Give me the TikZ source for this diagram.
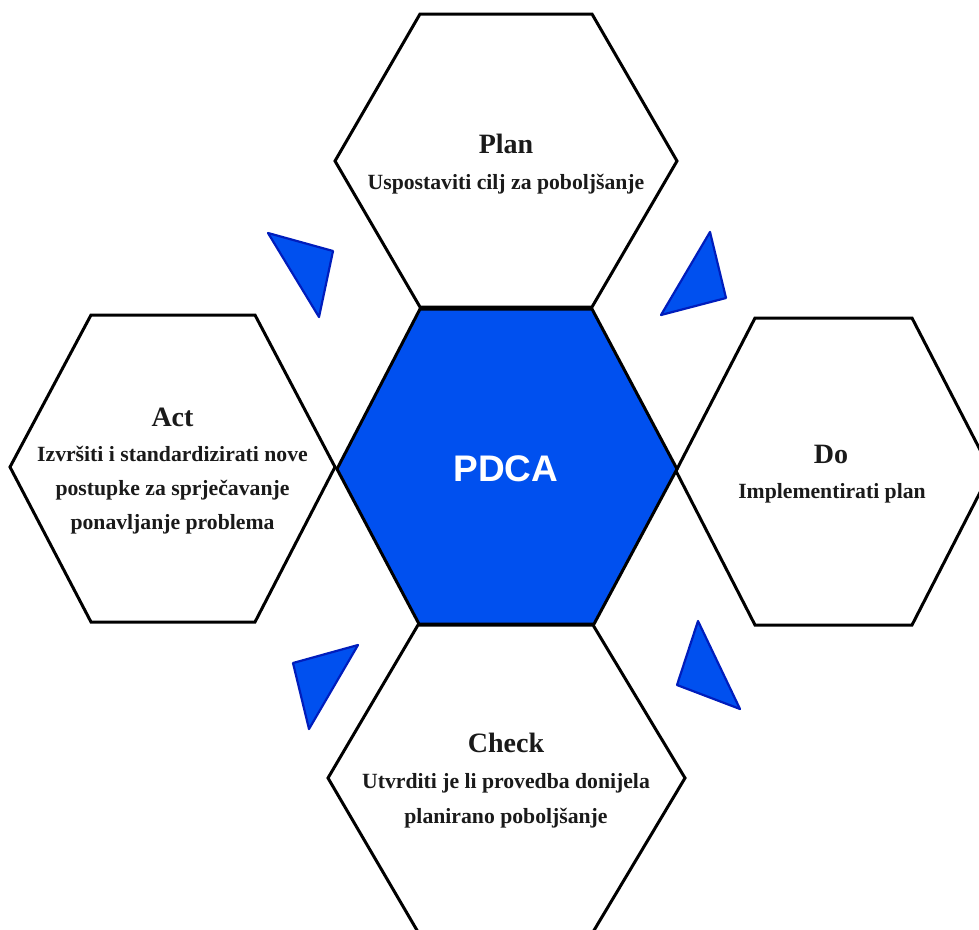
\documentclass[tikz,border=0pt]{standalone}
\usepackage{fontspec}
\setmainfont{Liberation Serif}
\newfontfamily\pdcafont{Liberation Sans}
\definecolor{hexblue}{HTML}{0050EF}
\definecolor{triedge}{HTML}{001DBC}
\definecolor{txtgray}{HTML}{1A1A1A}
\begin{document}
\begin{tikzpicture}[x=1pt,y=-1pt,
  hexa/.style={draw=black,line width=3pt,line join=miter,fill=white},
  core/.style={hexa,fill=hexblue},
  tri/.style={fill=hexblue,draw=triedge,line width=2.2pt,line join=round},
  ttl/.style={font=\fontsize{28}{34}\selectfont\bfseries,anchor=base,inner sep=0pt,text=txtgray},
  txt/.style={font=\fontsize{21.7}{26}\selectfont\bfseries,anchor=base,inner sep=0pt,text=txtgray},
  big/.style={font=\pdcafont\fontsize{37}{40}\selectfont\bfseries,inner sep=0pt,text=white}
]
\useasboundingbox (0,0) rectangle (979,929);

% outer hexagons
\draw[hexa] (420,14) -- (592,14) -- (677,161) -- (592,307) -- (420,307) -- (335,161) -- cycle; % Plan
\draw[hexa] (91,315) -- (255,315) -- (335,467) -- (255,622) -- (91,622) -- (10,467) -- cycle;   % Act
\draw[hexa] (755,318) -- (912,318) -- (991,471) -- (912,625) -- (755,625) -- (676,471) -- cycle; % Do
\draw[hexa] (418,625) -- (593,625) -- (685,778) -- (593,932) -- (418,932) -- (328,778) -- cycle; % Check

% central hexagon
\draw[core] (420,309) -- (592,309) -- (677,469) -- (594,624) -- (419,624) -- (337,469) -- cycle;
\node[big] (pdca) at (506,469) {PDCA};

% triangles
\draw[tri] (268,233) -- (333,251) -- (319,317) -- cycle;
\draw[tri] (710,232) -- (726,298) -- (661,315) -- cycle;
\draw[tri] (293,663) -- (358,645) -- (309,729) -- cycle;
\draw[tri] (698,621) -- (740,709) -- (677,685) -- cycle;

% Plan
\node[ttl] (planT) at (506,153) {Plan};
\node[txt] (planL1) at (506,189) {Uspostaviti cilj za poboljšanje};

% Act
\node[ttl] (actT) at (172.5,426) {Act};
\node[txt] (actL1) at (172.5,461.5) {Izvršiti i standardizirati nove};
\node[txt] (actL2) at (172.5,495.5) {postupke za sprječavanje};
\node[txt] (actL3) at (172.5,529.5) {ponavljanje problema};

% Do
\node[ttl] (doT) at (831,463) {Do};
\node[txt] (doL1) at (832,498) {Implementirati plan};

% Check
\node[ttl] (checkT) at (506,752.5) {Check};
\node[txt] (checkL1) at (506,788) {Utvrditi je li provedba donijela};
\node[txt] (checkL2) at (506,823) {planirano poboljšanje};
\end{tikzpicture}
\end{document}
